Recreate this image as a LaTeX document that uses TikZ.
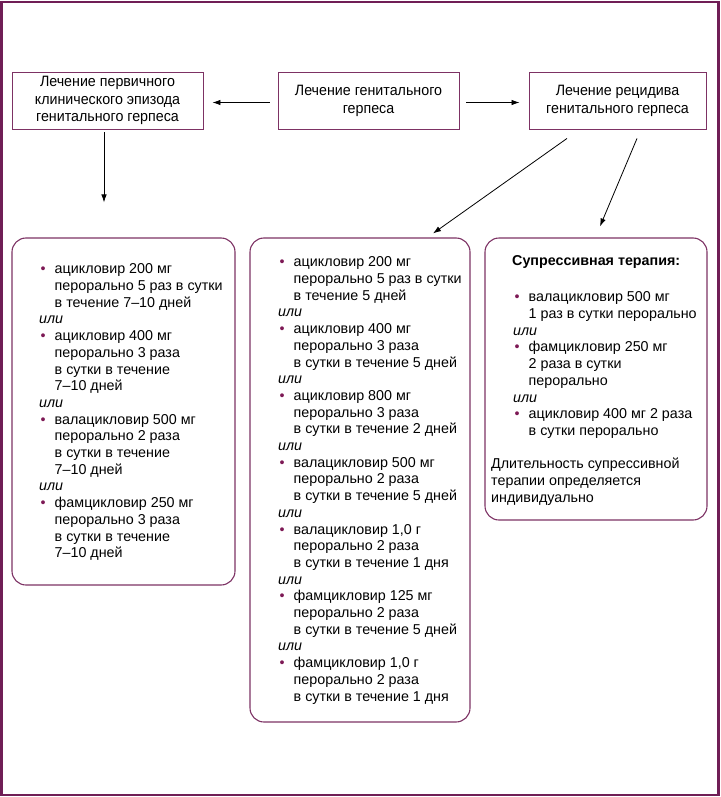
\documentclass[tikz,border=0pt]{standalone}
\usepackage{fontspec}
\setmainfont{Liberation Sans}
\newfontfamily\condfont[FakeStretch=0.95]{Liberation Sans}
\usetikzlibrary{arrows.meta,calc}
\definecolor{framec}{RGB}{112,30,86}
\definecolor{boxc}{RGB}{125,50,100}
\definecolor{dotc}{RGB}{125,25,85}
\newcommand\bl{\makebox[15.5pt][l]{\hspace{1.5pt}\textcolor{dotc}{\textbullet}}}
\newcommand\ili{\multicolumn{2}{@{}l@{}}{\textit{или}}}
\tikzset{
  topbox/.style={draw=boxc, line width=0.9pt, align=center, inner sep=0pt,
    font=\condfont\fontsize{15}{17.8}\selectfont},
  rbox/.style={draw=boxc, line width=1.1pt, rounded corners=14pt, inner sep=0pt},
  lst/.style={inner sep=0pt, anchor=north west, font=\fontsize{14.3}{16.7}\selectfont},
  arr/.style={-{Latex[length=8pt,width=5.5pt]}, line width=0.8pt}
}
\begin{document}
\begin{tikzpicture}[x=1pt,y=-1pt]
\useasboundingbox (0,0) rectangle (720,797);
\draw[framec, line width=2.4pt] (1.5,2) rectangle (718.5,795);
% top boxes
\node[topbox, minimum width=191, minimum height=57] (l) at (107.5,100.5)
  {Лечение первичного\\клинического эпизода\\генитального герпеса};
\node[topbox, minimum width=181, minimum height=57] (c) at (368.5,100.5)
  {Лечение генитального\\герпеса};
\node[topbox, minimum width=177, minimum height=57] (r) at (617.5,100.5)
  {Лечение рецидива\\генитального герпеса};
% bottom boxes
\node[rbox, minimum width=223, minimum height=347] (b1) at (123.5,411.5) {};
\node[rbox, minimum width=220, minimum height=484] (b2) at (360,480) {};
\node[rbox, minimum width=222, minimum height=282] (b3) at (596,379) {};
% arrows
\draw[arr] ($(c.west)+(-8,2)$) -- ($(l.east)+(9,2)$);
\draw[arr] ($(c.east)+(7,2)$) -- ($(r.west)+(-9,2)$);
\draw[arr] ($(l.south)+(-3.5,3)$) -- ($(b1.north)+(-19.5,-35)$);
\draw[arr] ($(r.south)+(-50.5,9)$) -- ($(b2.north)+(73,-4)$);
\draw[arr] ($(r.south)+(19.5,9)$) -- ($(b3.north)+(4,-11)$);
% texts
\node[lst] (t1) at (39,262) {\begin{tabular}{@{}l@{}l@{}}
\bl & ацикловир 200 мг\\
 & перорально 5 раз в сутки\\
 & в течение 7–10 дней\\
\ili\\
\bl & ацикловир 400 мг\\
 & перорально 3 раза\\
 & в сутки в течение\\
 & 7–10 дней\\
\ili\\
\bl & валацикловир 500 мг\\
 & перорально 2 раза\\
 & в сутки в течение\\
 & 7–10 дней\\
\ili\\
\bl & фамцикловир 250 мг\\
 & перорально 3 раза\\
 & в сутки в течение\\
 & 7–10 дней
\end{tabular}};
\node[lst] (t2) at (278,255) {\begin{tabular}{@{}l@{}l@{}}
\bl & ацикловир 200 мг\\
 & перорально 5 раз в сутки\\
 & в течение 5 дней\\
\ili\\
\bl & ацикловир 400 мг\\
 & перорально 3 раза\\
 & в сутки в течение 5 дней\\
\ili\\
\bl & ацикловир 800 мг\\
 & перорально 3 раза\\
 & в сутки в течение 2 дней\\
\ili\\
\bl & валацикловир 500 мг\\
 & перорально 2 раза\\
 & в сутки в течение 5 дней\\
\ili\\
\bl & валацикловир 1,0 г\\
 & перорально 2 раза\\
 & в сутки в течение 1 дня\\
\ili\\
\bl & фамцикловир 125 мг\\
 & перорально 2 раза\\
 & в сутки в течение 5 дней\\
\ili\\
\bl & фамцикловир 1,0 г\\
 & перорально 2 раза\\
 & в сутки в течение 1 дня
\end{tabular}};
\node[lst, font=\bfseries\fontsize{14.3}{16.7}\selectfont] (h3) at (512,255) {Супрессивная терапия:};
\node[lst] (t3) at (513,290) {\begin{tabular}{@{}l@{}l@{}}
\bl & валацикловир 500 мг\\
 & 1 раз в сутки перорально\\
\ili\\
\bl & фамцикловир 250 мг\\
 & 2 раза в сутки\\
 & перорально\\
\ili\\
\bl & ацикловир 400 мг 2 раза\\
 & в сутки перорально
\end{tabular}};
\node[lst] (f3) at (491,457) {\begin{tabular}{@{}l@{}}
Длительность супрессивной\\
терапии определяется\\
индивидуально
\end{tabular}};
\end{tikzpicture}
\end{document}
